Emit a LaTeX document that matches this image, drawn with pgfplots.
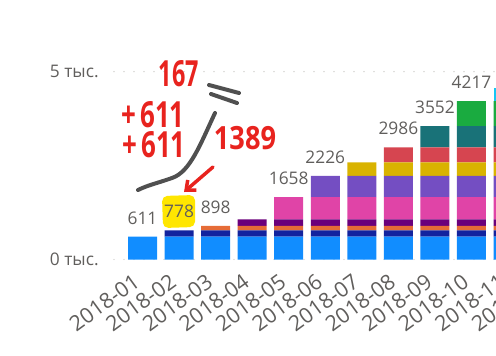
\documentclass[border=0pt]{standalone}
\usepackage{pgfplots}
\pgfplotsset{compat=1.18}
\usepackage{pgfplotstable}
\usepackage{fontspec}
\setmainfont{Open Sans}
\usetikzlibrary{arrows.meta}
\definecolor{c1}{HTML}{118DFF}
\definecolor{c2}{HTML}{12239E}
\definecolor{c3}{HTML}{E66C37}
\definecolor{c4}{HTML}{6B007B}
\definecolor{c5}{HTML}{E044A7}
\definecolor{c6}{HTML}{744EC2}
\definecolor{c7}{HTML}{D9B300}
\definecolor{c8}{HTML}{D64550}
\definecolor{c9}{HTML}{197278}
\definecolor{c10}{HTML}{1AAB40}
\definecolor{c11}{HTML}{15C6F4}
\definecolor{txt}{HTML}{605E5C}
\definecolor{gridc}{HTML}{C8C6C4}
\definecolor{hand}{HTML}{E8231E}
\definecolor{pen}{HTML}{505050}
\definecolor{hl}{HTML}{FFE600}

\pgfplotstableread{
x s1 s2 s3 s4 s5 s6 s7 s8 s9 s10 s11
0 611 0 0 0 0 0 0 0 0 0 0
1 611 167 0 0 0 0 0 0 0 0 0
2 611 167 120 0 0 0 0 0 0 0 0
3 611 167 120 172 0 0 0 0 0 0 0
4 611 167 120 172 588 0 0 0 0 0 0
5 611 167 120 172 588 568 0 0 0 0 0
6 611 167 120 172 588 568 362 0 0 0 0
7 611 167 120 172 588 568 362 398 0 0 0
8 611 167 120 172 588 568 362 398 566 0 0
9 611 167 120 172 588 568 362 398 566 665 0
10 611 167 120 172 588 568 362 398 566 665 349
}\bars

\pgfplotstableread{
x y lab
0 611 611
1 778 778
2 898 898
4 1658 1658
5 2226 2226
7 2986 2986
8 3552 3552
9 4217 4217
}\totals

\pgfplotsset{base/.style={
  at={(85.5pt,71.625pt)}, anchor=south west, scale only axis,
  width=339.4pt, height=140.85pt,
  xmin=-0.78, xmax=11.6, ymin=0, ymax=5000,
  axis line style={draw=none}, major tick length=0pt, tick style={draw=none},
}}

\begin{document}
\begin{tikzpicture}
\useasboundingbox (0,0) rectangle (372pt,266.25pt);
\clip (0,0) rectangle (372pt,266.25pt);
\begin{axis}[base,
  ybar stacked, bar width=21.75pt,
  ytick={0,5000}, yticklabels={0 тыс.,5 тыс.},
  xtick={0,...,11},
  xticklabels={2018-01,2018-02,2018-03,2018-04,2018-05,2018-06,2018-07,2018-08,2018-09,2018-10,2018-11,2018-12},
  ymajorgrids,
  major grid style={draw=gridc, line width=1.1pt, line cap=round, dash pattern=on 0pt off 7.5pt},
  tick label style={text=txt},
  yticklabel style={font=\fontsize{13}{15}\selectfont, xshift=-8pt},
  xticklabel style={font=\fontsize{16}{18}\selectfont, inner sep=0pt, xshift=-4.2pt, yshift=-14.5pt, rotate=36, anchor=east},
]
\addplot[fill=c1, draw=none] table[x=x,y=s1] {\bars};
\addplot[fill=c2, draw=none] table[x=x,y=s2] {\bars};
\addplot[fill=c3, draw=none] table[x=x,y=s3] {\bars};
\addplot[fill=c4, draw=none] table[x=x,y=s4] {\bars};
\addplot[fill=c5, draw=none] table[x=x,y=s5] {\bars};
\addplot[fill=c6, draw=none] table[x=x,y=s6] {\bars};
\addplot[fill=c7, draw=none] table[x=x,y=s7] {\bars};
\addplot[fill=c8, draw=none] table[x=x,y=s8] {\bars};
\addplot[fill=c9, draw=none] table[x=x,y=s9] {\bars};
\addplot[fill=c10, draw=none] table[x=x,y=s10] {\bars};
\addplot[fill=c11, draw=none] table[x=x,y=s11] {\bars};
\end{axis}
% yellow highlight behind 778
\begin{scope}[x=0.75pt,y=-0.75pt,yshift=266.25pt]
\fill[hl, rounded corners=4pt] (162,196) -- (195,195) -- (195,227) -- (163,228) -- cycle;
\end{scope}
\begin{axis}[base, xtick=\empty, ytick=\empty, clip=false]
\addplot[draw=none, mark=none, nodes near coords, point meta=explicit symbolic,
  every node near coord/.append style={anchor=base, inner sep=0pt, yshift=9.4pt,
  font=\fontsize{13}{15}\selectfont, text=txt}]
  table[x=x,y=y,meta=lab] {\totals};
\end{axis}
% hand-drawn annotations
\begin{scope}[x=0.75pt,y=-0.75pt,yshift=266.25pt]
\draw[pen, line width=3pt, line cap=round] (209,85) -- (239,93);
\draw[pen, line width=3pt, line cap=round] (211,94) -- (237,103);
\draw[pen, line width=3pt, line cap=round] (215,113) .. controls (200,145) and (190,172) .. (172,178) .. controls (158,183) and (148,185) .. (138,190);
\draw[hand, line width=2.6pt, line cap=round, -{Straight Barb[length=6pt, width=10pt]}] (213,167) -- (184,192);
\node[hand, font=\fontsize{27}{27}\bfseries\selectfont, xscale=0.65, inner sep=0pt] at (179,74) {167};
\node[hand, font=\fontsize{27}{27}\bfseries\selectfont, xscale=0.72, inner sep=0pt] at (153,115) {+\,611};
\node[hand, font=\fontsize{27}{27}\bfseries\selectfont, xscale=0.72, inner sep=0pt] at (154,145) {+\,611};
\node[hand, font=\fontsize{24}{24}\bfseries\selectfont, xscale=0.85, inner sep=0pt] at (245,138) {1389};
\end{scope}
\end{tikzpicture}
\end{document}
